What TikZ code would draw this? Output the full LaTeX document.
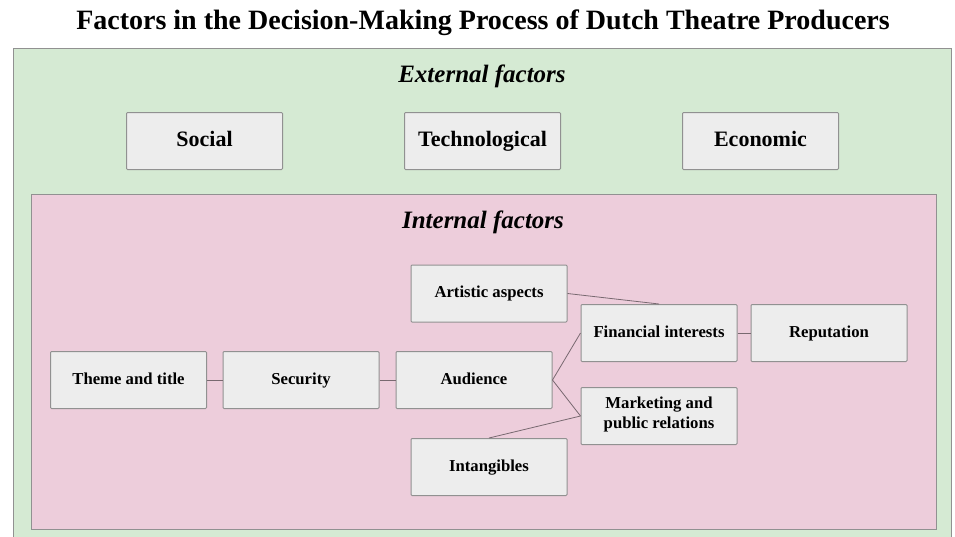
\documentclass[tikz,border=0pt]{standalone}
\usepackage{fontspec}
\setmainfont{Liberation Serif}
\usepackage{xcolor}
\usepackage{tikz}
\usetikzlibrary{calc}
\usetikzlibrary{arrows.meta}
\usetikzlibrary{positioning}
\tikzset{>=latex}
\definecolor{extgreen}{RGB}{213,234,211}
\definecolor{intpink}{RGB}{237,205,219}
\definecolor{boxfill}{RGB}{237,237,237}
\definecolor{edgegray}{RGB}{145,145,145}
\definecolor{linkgray}{RGB}{120,105,112}
\tikzstyle{factor} = [rectangle, draw = edgegray, fill = boxfill, line width = 1pt, rounded corners = 1pt, minimum width = 156pt, minimum height = 57pt, align = center, inner sep = 2pt, execute at begin node = \strut]
\tikzstyle{extbox} = [factor, font = \fontsize{22}{25}\selectfont\bfseries]
\tikzstyle{intbox} = [factor, font = \fontsize{16.7}{20}\selectfont\bfseries]
\tikzstyle{link} = [-, draw = linkgray, line width = 0.8pt]

\begin{document}
\begin{tikzpicture}[x = 1pt, y = -1pt]
\useasboundingbox (0, 0) rectangle (955, 536);
\fill [white] (0, 0) rectangle (955, 536);
% outer and inner panels
\draw [fill = extgreen, draw = edgegray, line width = 1pt] (13, 48) rectangle (951, 560);
\draw [fill = intpink, draw = edgegray, line width = 1pt] (31, 194) rectangle (936, 529);
\node [draw=none, inner sep = 0, font = \fontsize{28}{32}\selectfont\bfseries] (title) at (483, 23) {Factors in the Decision-Making Process of Dutch Theatre Producers};
\node [draw=none, inner sep = 0, font = \fontsize{25}{28}\selectfont\bfseries\itshape] (ext) at (482, 76) {External factors};
\node [draw=none, inner sep = 0, font = \fontsize{25}{28}\selectfont\bfseries\itshape] (int) at (483, 222) {Internal factors};
% external factors
\node [extbox] (S) at (204.5, 141) {Social};
\node [extbox] (T) at (482.5, 141) {Technological};
\node [extbox] (E) at (760.5, 141) {Economic};
% internal factors
\node [intbox] (TT) at (128.5, 380) {Theme and title};
\node [intbox] (Sec) at (301, 380) {Security};
\node [intbox] (Aud) at (474, 380) {Audience};
\node [intbox] (Art) at (489, 293.5) {Artistic aspects};
\node [intbox] (Fin) at (659, 333) {Financial interests};
\node [intbox] (Rep) at (829, 333) {Reputation};
\node [intbox] (Mkt) at (659, 416) {Marketing and\\public relations};
\node [intbox] (Int) at (489, 467) {Intangibles};
\draw [link] (TT) to (Sec);
\draw [link] (Sec) to (Aud);
\draw [link] (Aud.east) to (Fin.west);
\draw [link] (Aud.east) to (Mkt.west);
\draw [link] (Art.east) to (Fin.north);
\draw [link] (Int.north) to (Mkt.west);
\draw [link] (Fin) to (Rep);
\end{tikzpicture}
\end{document}
